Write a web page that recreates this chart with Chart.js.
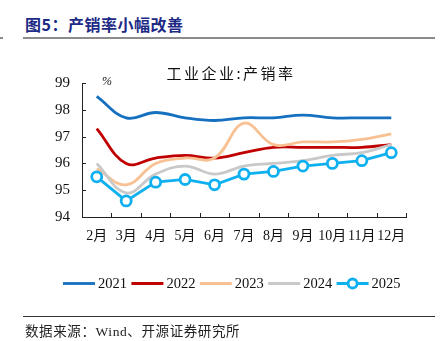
<!DOCTYPE html>
<html>
<head>
<meta charset="utf-8">
<script src="https://cdn.jsdelivr.net/npm/chart.js@4"></script>
<style>
  html, body { margin: 0; padding: 0; background: #fff; }
  body { width: 442px; height: 341px; position: relative; overflow: hidden; }
  #c { position: absolute; left: 0; top: 0; }
  .heading { position: absolute; left: 25px; top: 12px; font: bold 16px "Noto Sans CJK SC", sans-serif; color: #1c2a86; white-space: nowrap; letter-spacing: 0.5px; }
  .rule-top { position: absolute; left: 23px; top: 37px; width: 412px; height: 2px; background: #8c8c8c; }
  .rule-top-stub { position: absolute; left: 0; top: 37px; width: 3px; height: 2px; background: #8c8c8c; }
  .rule-bottom { position: absolute; left: 23px; top: 316px; width: 412px; height: 1px; background: #333; }
  .source { position: absolute; left: 25px; top: 320px; font: 13.5px "Liberation Serif", "Noto Sans CJK SC", serif; color: #222; white-space: nowrap; letter-spacing: 0.6px; }
</style>
</head>
<body>
<div class="heading">图5：产销率小幅改善</div>
<div class="rule-top-stub"></div>
<div class="rule-top"></div>
<canvas id="c" width="442" height="341"></canvas>
<div class="rule-bottom"></div>
<div class="source">数据来源：Wind、开源证券研究所</div>
<script>
// Months on the category axis
const months = ['2月', '3月', '4月', '5月', '6月', '7月', '8月', '9月', '10月', '11月', '12月'];

// Industrial enterprises: production-to-sales ratio (%), by year
const rate2021 = [98.5, 97.7, 97.9, 97.7, 97.6, 97.7, 97.7, 97.8, 97.7, 97.7, 97.7];
const rate2022 = [97.3, 96.0, 96.2, 96.3, 96.2, 96.4, 96.6, 96.6, 96.6, 96.6, 96.7];
const rate2023 = [95.8, 95.2, 96.0, 96.2, 96.2, 97.5, 96.7, 96.8, 96.8, 96.9, 97.1];
const rate2024 = [96.0, 94.9, 95.6, 95.9, 95.6, 95.9, 96.0, 96.1, 96.3, 96.4, 96.7];
const rate2025 = [95.5, 94.6, 95.3, 95.4, 95.2, 95.6, 95.7, 95.9, 96.0, 96.1, 96.4];

const SERIF = '"Liberation Serif", "Noto Sans CJK SC", serif';

function smoothLine(label, data, color, order) {
  return {
    label, data, order,
    borderColor: color, backgroundColor: color,
    borderWidth: 2.8, tension: 0.4,
    pointRadius: 0, pointHoverRadius: 0, fill: false
  };
}

const datasets = [
  smoothLine('2021', rate2021, '#1570c0', 5),
  smoothLine('2022', rate2022, '#c00000', 4),
  smoothLine('2023', rate2023, '#f8c193', 3),
  smoothLine('2024', rate2024, '#c9c9c9', 2),
  {
    label: '2025', data: rate2025, order: 1,
    borderColor: '#0fb0ef', backgroundColor: '#ffffff',
    borderWidth: 2.8, tension: 0,
    pointRadius: 5, pointBorderWidth: 2.8,
    pointBackgroundColor: '#ffffff', pointBorderColor: '#0fb0ef',
    fill: false
  }
];

// Inward tick marks, chart title, unit label and a line-sample legend
const decorations = {
  id: 'decorations',
  afterDraw(chart) {
    const ctx = chart.ctx;
    const x = chart.scales.x, y = chart.scales.y;
    ctx.save();
    ctx.strokeStyle = '#222';
    ctx.lineWidth = 1;
    // y ticks pointing into the plot
    y.ticks.forEach(t => {
      const py = Math.round(y.getPixelForValue(t.value)) + 0.5;
      ctx.beginPath(); ctx.moveTo(x.left, py); ctx.lineTo(x.left + 4, py); ctx.stroke();
    });
    // x ticks at category boundaries, pointing up
    const n = months.length;
    const step = (x.right - x.left) / n;
    for (let i = 1; i <= n; i++) {
      const px = Math.round(x.left + i * step) + 0.5;
      ctx.beginPath(); ctx.moveTo(px, y.bottom); ctx.lineTo(px, y.bottom - 4); ctx.stroke();
    }

    // chart title
    ctx.fillStyle = '#111';
    ctx.font = '15px "Noto Sans CJK SC", serif';
    ctx.letterSpacing = '2.5px';
    ctx.textAlign = 'center';
    ctx.textBaseline = 'middle';
    ctx.fillText('工业企业:产销率', 231, 73);
    ctx.letterSpacing = '0px';

    // unit
    ctx.font = 'italic 12px ' + SERIF;
    ctx.fillText('%', 107, 82);

    // legend
    ctx.font = '14.5px ' + SERIF;
    ctx.textAlign = 'left';
    const ly = 283.5;
    let lx = 63;
    chart.data.datasets.forEach(ds => {
      ctx.strokeStyle = ds.borderColor;
      ctx.lineWidth = 2.8;
      ctx.beginPath(); ctx.moveTo(lx, ly); ctx.lineTo(lx + 32, ly); ctx.stroke();
      if (ds.pointRadius) {
        ctx.beginPath();
        ctx.arc(lx + 16, ly, ds.pointRadius - 0.5, 0, Math.PI * 2);
        ctx.fillStyle = ds.pointBackgroundColor;
        ctx.fill();
        ctx.lineWidth = ds.pointBorderWidth;
        ctx.strokeStyle = ds.pointBorderColor;
        ctx.stroke();
      }
      ctx.fillStyle = '#111';
      ctx.fillText(ds.label, lx + 35, ly + 1);
      lx += 68.4;
    });
    ctx.restore();
  }
};

new Chart(document.getElementById('c'), {
  type: 'line',
  data: { labels: months, datasets },
  options: {
    responsive: false,
    animation: false,
    devicePixelRatio: 1,
    layout: { padding: { left: 0, right: 36, top: 83, bottom: 94 } },
    plugins: {
      legend: { display: false },
      title: { display: false },
      tooltip: { enabled: false }
    },
    scales: {
      x: {
        offset: true,
        grid: { display: false, drawTicks: false },
        border: { display: true, color: '#222', width: 1 },
        ticks: { color: '#111', font: { family: SERIF, size: 14 }, padding: 11, maxRotation: 0, autoSkip: false },
        afterFit(scale) { scale.height = 30; }
      },
      y: {
        min: 94, max: 99,
        grid: { display: false, drawTicks: false },
        border: { display: true, color: '#222', width: 1 },
        ticks: { stepSize: 1, color: '#111', font: { family: SERIF, size: 15 }, padding: 12 },
        afterFit(scale) { scale.width = 82; }
      }
    }
  },
  plugins: [decorations]
});
</script>
</body>
</html>
